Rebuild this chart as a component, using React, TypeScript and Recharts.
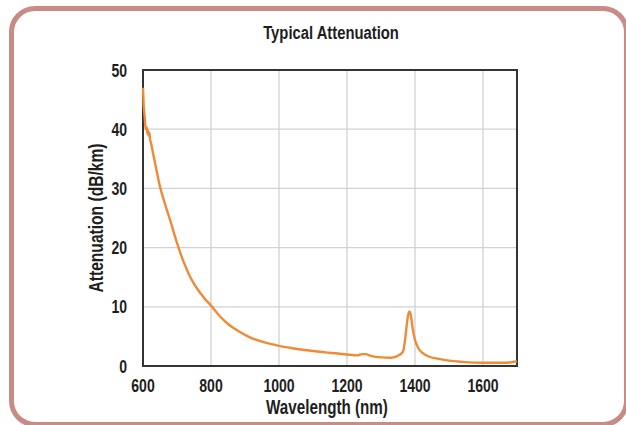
import React from 'react';
import {
  LineChart,
  Line,
  XAxis,
  YAxis,
  CartesianGrid,
  ReferenceArea,
  Label,
} from 'recharts';

const wavelengths = [
  600, 601, 602, 603, 605, 607, 609, 611, 613, 615, 617, 619, 621, 623, 626, 630, 640, 650,
  665, 680, 700, 720, 740, 760, 780, 800, 826, 850, 880, 916, 950, 1000, 1040, 1075, 1120,
  1155, 1200, 1230, 1245, 1255, 1270, 1300, 1330, 1355, 1365, 1372, 1378, 1383, 1388, 1393,
  1400, 1410, 1422, 1440, 1470, 1500, 1540, 1600, 1650, 1680, 1700,
];
const attenuation = [
  47, 45.5, 44, 43.3, 42, 40.5, 40, 40.3, 39.2, 39.8, 38.9, 39.4, 38.2, 37.8, 37, 35.8, 33,
  30.3, 27.3, 24.6, 20.8, 17.5, 14.9, 13, 11.5, 10.2, 8.4, 7.1, 5.9, 4.8, 4.1, 3.4, 3.0, 2.7,
  2.4, 2.2, 1.95, 1.8, 2.0, 2.0, 1.7, 1.45, 1.4, 1.9, 2.5, 5, 8, 9.2, 8.5, 6.4, 4.4, 3.0, 2.2,
  1.6, 1.2, 0.9, 0.7, 0.55, 0.55, 0.6, 0.8,
];
const xTicks = [600, 800, 1000, 1200, 1400, 1600];
const yTicks = [0, 10, 20, 30, 40, 50];

const data = wavelengths.map((w, i) => ({ wl: w, att: attenuation[i] }));

const FONT = "'Liberation Sans', Arial, sans-serif";
const SX = 0.78;
const TXT = '#1e1e1e';

function NarrowText(props: {
  x: number;
  y: number;
  anchor: 'start' | 'middle' | 'end';
  rotate?: number;
  size?: number;
  children: React.ReactNode;
}) {
  const { x, y, anchor, rotate = 0, size = 18, children } = props;
  return (
    <text
      transform={`translate(${x},${y}) rotate(${rotate}) scale(${SX},1)`}
      textAnchor={anchor}
      fontFamily={FONT}
      fontWeight="bold"
      fontSize={size}
      fill={TXT}
    >
      {children}
    </text>
  );
}

const XTick = (p: any) => (
  <NarrowText x={p.x} y={p.y + 18} anchor="middle">
    {p.payload.value}
  </NarrowText>
);

const YTick = (p: any) => (
  <NarrowText x={p.x} y={p.y + 6.5} anchor="end">
    {p.payload.value}
  </NarrowText>
);

const XLabel = (p: any) => {
  const vb = p.viewBox;
  return (
    <NarrowText x={vb.x + vb.width / 2 - 3} y={414} anchor="middle" size={19.5}>
      Wavelength (nm)
    </NarrowText>
  );
};

const YLabel = (p: any) => (
  <NarrowText x={103} y={218} anchor="middle" rotate={-90} size={20}>
    Attenuation (dB/km)
  </NarrowText>
);

export default function App() {
  return (
    <div
      style={{
        position: 'absolute',
        left: 0,
        top: 0,
        width: 626,
        height: 425,
        overflow: 'hidden',
        background: '#ffffff',
      }}
    >
      <div
        style={{
          position: 'absolute',
          left: 9,
          top: 6,
          width: 620,
          height: 421,
          border: '5px solid #c98b86',
          borderRadius: 26,
          boxSizing: 'border-box',
        }}
      />
      <div style={{ position: 'absolute', left: 0, top: 0 }}>
        <LineChart
          width={626}
          height={425}
          data={data}
          margin={{ top: 70, right: 109, bottom: 14, left: 78 }}
        >
          <text
            transform={`translate(331,39) scale(${SX},1)`}
            textAnchor="middle"
            fontFamily={FONT}
            fontWeight="bold"
            fontSize={19}
            fill={TXT}
          >
            Typical Attenuation
          </text>
          <CartesianGrid stroke="#d2d2d2" strokeWidth={1.3} />
          <XAxis
            dataKey="wl"
            type="number"
            domain={[600, 1700]}
            ticks={xTicks}
            tickLine={false}
            axisLine={false}
            height={45}
            tick={<XTick />}
            interval={0}
          >
            <Label content={<XLabel />} />
          </XAxis>
          <YAxis
            type="number"
            domain={[0, 50]}
            ticks={yTicks}
            tickLine={false}
            axisLine={false}
            width={65}
            tick={<YTick />}
            tickMargin={10}
            interval={0}
          >
            <Label content={<YLabel />} />
          </YAxis>
          <ReferenceArea
            x1={600}
            x2={1700}
            y1={0}
            y2={50}
            fill="none"
            fillOpacity={0}
            stroke="#333333"
            strokeWidth={2}
            ifOverflow="visible"
          />
          <Line
            type="monotone"
            dataKey="att"
            stroke="#ef8a35"
            strokeWidth={2.4}
            dot={false}
            isAnimationActive={false}
          />
        </LineChart>
      </div>
    </div>
  );
}
